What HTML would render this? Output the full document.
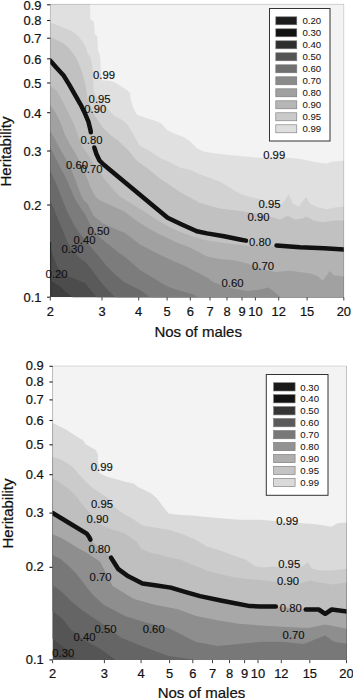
<!DOCTYPE html>
<html><head><meta charset="utf-8"><style>
html,body{margin:0;padding:0;background:#fff;}
body{width:353px;height:700px;overflow:hidden;}
svg{display:block;}
text{font-family:"Liberation Sans",sans-serif;fill:#111;stroke:#111;stroke-width:0.22px;}
.tk{font-size:12.9px;}
.ax{font-size:15px;}
.lg{font-size:9.6px;stroke-width:0.05px;}
.cl{font-size:11.2px;stroke-width:0.15px;}
</style></head><body>
<svg width="353" height="700" viewBox="0 0 353 700">
<svg x="50.3" y="4.3" width="293.5" height="292.9" viewBox="50.3 4.3 293.5 292.9" overflow="hidden">
<rect x="50.3" y="4.3" width="293.5" height="292.9" fill="#3e3e3e"/>
<polygon points="49.0,280.0 59.3,285.7 66.0,292.0 73.6,298.5 344.8,298.2 344.8,3.8 49.3,3.8" fill="#4c4c4c"/>
<polygon points="49.0,245.0 53.6,257.1 57.9,268.0 65.0,275.0 75.0,279.0 85.0,282.9 90.7,290.0 97.9,298.5 344.8,298.2 344.8,3.8 49.3,3.8" fill="#5a5a5a"/>
<polygon points="49.0,199.0 53.6,208.0 57.9,219.0 62.1,229.0 67.9,242.9 73.6,251.4 80.7,259.0 85.0,261.5 92.1,270.0 99.3,280.0 106.4,288.6 113.6,295.7 117.0,298.5 344.8,298.2 344.8,3.8 49.3,3.8" fill="#6a6a6a"/>
<polygon points="49.0,170.0 50.4,171.0 55.0,181.0 59.0,191.0 62.1,199.0 67.0,211.0 73.6,224.3 79.3,232.9 85.0,240.0 92.1,248.6 99.3,257.1 106.4,265.7 113.6,272.9 120.7,279.3 125.0,282.5 140.0,290.0 152.0,298.5 344.8,298.2 344.8,3.8 49.3,3.8" fill="#7c7c7c"/>
<polygon points="49.0,147.0 50.4,148.0 55.0,157.0 60.0,167.0 66.4,179.0 70.7,189.0 75.0,199.0 80.0,207.0 85.0,214.3 92.0,228.0 99.3,237.1 106.4,242.9 113.6,248.6 119.3,252.9 125.0,257.1 140.0,270.0 147.1,274.3 154.3,278.6 161.4,282.9 168.6,287.1 175.7,289.5 182.9,291.5 193.6,294.5 200.0,298.5 344.8,298.2 344.8,3.8 49.3,3.8" fill="#8e8e8e"/>
<polygon points="49.0,130.0 50.4,131.3 53.7,137.0 57.9,145.0 63.6,155.0 69.3,165.0 75.0,179.0 80.7,194.3 83.6,200.0 87.9,204.3 93.6,215.7 102.1,222.9 110.7,227.1 119.3,230.7 125.0,232.9 140.0,244.5 154.3,252.0 168.6,259.0 182.9,265.0 193.6,270.5 207.2,277.5 214.0,282.4 227.6,287.5 248.0,290.9 261.6,289.2 268.4,287.5 275.2,292.6 282.0,298.5 344.8,298.2 344.8,3.8 49.3,3.8" fill="#a1a1a1"/>
<polygon points="49.0,104.0 50.1,105.0 55.1,111.7 60.7,123.0 65.0,135.0 70.7,145.5 76.4,155.0 82.1,167.1 85.0,172.9 90.0,186.0 95.0,196.0 99.3,200.0 106.4,203.5 113.6,206.5 120.0,209.5 125.0,212.0 133.6,218.5 140.0,223.0 147.2,227.5 154.3,231.5 160.8,235.0 168.6,238.5 174.4,241.5 182.9,245.0 190.0,247.5 207.0,256.5 221.0,259.3 234.4,260.3 248.0,263.7 261.6,268.8 275.2,272.0 290.0,270.8 301.3,272.3 311.2,273.7 318.3,276.6 322.6,280.8 326.8,275.2 329.7,270.9 333.9,275.2 345.0,276.6 344.8,3.8 49.3,3.8" fill="#b3b3b3"/>
<polygon points="49.0,84.5 56.5,90.4 62.2,100.3 67.8,111.7 73.5,123.0 77.7,135.0 82.0,146.0 88.6,155.6 93.1,163.6 97.7,169.0 105.0,180.0 116.3,193.0 120.0,196.5 131.3,203.5 142.7,210.5 154.0,218.0 165.4,225.0 179.0,231.5 192.6,236.5 200.0,238.5 207.0,240.5 224.0,243.0 241.0,245.0 250.0,246.0 274.5,246.2 300.0,248.0 324.0,249.0 345.0,250.2 344.8,3.8 49.3,3.8" fill="#c1c1c1"/>
<polygon points="49.0,36.5 56.5,40.0 63.3,43.3 68.4,47.6 72.6,52.7 76.0,57.8 78.0,62.0 82.0,71.8 85.5,85.0 87.7,100.0 90.5,106.0 93.3,113.5 102.4,127.0 109.2,134.0 118.3,140.7 128.0,150.0 137.0,161.0 145.5,166.7 160.0,178.4 180.0,192.1 200.0,203.0 220.0,208.4 240.0,211.0 260.0,214.0 280.0,219.4 287.5,215.7 295.0,219.4 302.4,218.5 306.2,216.6 313.6,220.4 323.0,222.2 334.2,220.4 345.0,220.4 344.8,3.8 49.3,3.8" fill="#d2d2d2"/>
<polygon points="49.0,22.1 58.2,25.5 66.7,28.9 72.6,31.4 78.6,36.5 83.7,43.3 86.2,48.4 87.1,52.7 89.6,56.1 91.3,60.0 93.0,72.5 93.6,90.0 95.6,95.4 104.7,104.5 113.7,115.8 122.8,120.3 128.0,125.0 134.2,136.0 139.8,146.0 149.0,150.4 160.0,158.0 171.7,163.0 180.0,167.5 190.0,170.0 200.0,174.5 210.0,178.0 220.0,181.8 240.0,193.8 250.0,197.0 260.0,199.0 270.0,203.0 280.0,205.4 283.7,201.7 288.4,194.2 293.0,203.6 298.7,206.4 302.4,201.7 306.2,197.0 309.9,203.6 317.4,207.3 326.7,209.2 336.0,207.3 345.0,206.4 344.8,3.8 49.3,3.8" fill="#e0e0e0"/>
<polygon points="89.9,3.0 90.5,19.5 93.9,21.2 94.7,34.0 97.3,36.5 98.1,51.0 99.8,54.4 100.5,62.0 100.8,72.0 101.5,80.3 109.3,80.8 115.0,82.5 120.7,85.9 127.5,90.4 130.0,93.0 130.8,100.0 133.7,109.0 137.0,114.7 146.0,118.0 157.5,121.5 162.0,124.0 167.0,130.0 174.0,133.4 183.0,136.8 190.0,141.3 196.7,148.0 203.5,151.5 212.5,153.0 220.0,154.0 240.0,156.0 260.0,157.8 280.0,157.0 289.0,157.8 298.7,158.7 308.0,160.6 317.4,162.4 326.7,163.4 332.3,161.5 345.0,160.6 344.8,3.8" fill="#f3f3f3"/>
<polyline points="50.3,60.7 56.5,67.7 63.6,75.5 69.2,84.7 74.9,94.7 80.6,104.6 84.8,113.1 88.4,121.6 90.5,130.1 90.8,132.3" fill="none" stroke="#111" stroke-width="4.5" stroke-linejoin="round" stroke-linecap="round"/>
<polyline points="94.3,147.5 96.5,154.2 99.5,160.5 103.5,164.5 167.6,217.8 181.2,224.2 196.8,231.2 207.0,233.4 224.0,236.3 241.0,239.7 246.0,240.6" fill="none" stroke="#111" stroke-width="4.5" stroke-linejoin="round" stroke-linecap="round"/>
<polyline points="276.5,245.4 300.0,247.2 324.0,248.3 346.0,249.6" fill="none" stroke="#111" stroke-width="4.5" stroke-linejoin="round" stroke-linecap="round"/>
<path d="M50.5 242.0V297.2" stroke="#1c1c1c" stroke-width="1.3"/>
</svg>
<path d="M50.3 297.2V4.3H343.8" fill="none" stroke="#000" stroke-opacity="0.13" stroke-width="1"/>
<path d="M343.8 4.3V297.2" fill="none" stroke="#000" stroke-opacity="0.12" stroke-width="1"/>
<path d="M47.1 4.8H50.3" stroke="#222" stroke-width="1.1"/>
<text x="41.4" y="9.7" text-anchor="end" class="tk">0.9</text>
<path d="M47.1 20.5H50.3" stroke="#222" stroke-width="1.1"/>
<text x="41.4" y="25.4" text-anchor="end" class="tk">0.8</text>
<path d="M47.1 38.2H50.3" stroke="#222" stroke-width="1.1"/>
<text x="41.4" y="43.1" text-anchor="end" class="tk">0.7</text>
<path d="M47.1 58.8H50.3" stroke="#222" stroke-width="1.1"/>
<text x="41.4" y="63.7" text-anchor="end" class="tk">0.6</text>
<path d="M47.1 83.0H50.3" stroke="#222" stroke-width="1.1"/>
<text x="41.4" y="87.9" text-anchor="end" class="tk">0.5</text>
<path d="M47.1 112.7H50.3" stroke="#222" stroke-width="1.1"/>
<text x="41.4" y="117.6" text-anchor="end" class="tk">0.4</text>
<path d="M47.1 151.0H50.3" stroke="#222" stroke-width="1.1"/>
<text x="41.4" y="155.9" text-anchor="end" class="tk">0.3</text>
<path d="M47.1 205.0H50.3" stroke="#222" stroke-width="1.1"/>
<text x="41.4" y="209.9" text-anchor="end" class="tk">0.2</text>
<path d="M47.1 297.2H50.3" stroke="#222" stroke-width="1.1"/>
<text x="41.4" y="302.1" text-anchor="end" class="tk">0.1</text>
<path d="M50.3 297.2V300.5" stroke="#444" stroke-width="1"/>
<text x="50.3" y="315.5" text-anchor="middle" class="tk">2</text>
<path d="M102.0 297.2V300.5" stroke="#444" stroke-width="1"/>
<text x="102.0" y="315.5" text-anchor="middle" class="tk">3</text>
<path d="M138.7 297.2V300.5" stroke="#444" stroke-width="1"/>
<text x="138.7" y="315.5" text-anchor="middle" class="tk">4</text>
<path d="M167.1 297.2V300.5" stroke="#444" stroke-width="1"/>
<text x="167.1" y="315.5" text-anchor="middle" class="tk">5</text>
<path d="M190.3 297.2V300.5" stroke="#444" stroke-width="1"/>
<text x="190.3" y="315.5" text-anchor="middle" class="tk">6</text>
<path d="M210.0 297.2V300.5" stroke="#444" stroke-width="1"/>
<text x="210.0" y="315.5" text-anchor="middle" class="tk">7</text>
<path d="M227.0 297.2V300.5" stroke="#444" stroke-width="1"/>
<text x="227.0" y="315.5" text-anchor="middle" class="tk">8</text>
<path d="M242.0 297.2V300.5" stroke="#444" stroke-width="1"/>
<text x="242.0" y="315.5" text-anchor="middle" class="tk">9</text>
<path d="M255.4 297.2V300.5" stroke="#444" stroke-width="1"/>
<text x="255.4" y="315.5" text-anchor="middle" class="tk">10</text>
<path d="M278.7 297.2V300.5" stroke="#444" stroke-width="1"/>
<text x="278.7" y="315.5" text-anchor="middle" class="tk">12</text>
<path d="M307.1 297.2V300.5" stroke="#444" stroke-width="1"/>
<text x="307.1" y="315.5" text-anchor="middle" class="tk">15</text>
<path d="M343.8 297.2V300.5" stroke="#444" stroke-width="1"/>
<text x="343.8" y="315.5" text-anchor="middle" class="tk">20</text>
<text x="93.0" y="79.1" class="cl" textLength="22.0" lengthAdjust="spacingAndGlyphs">0.99</text>
<text x="88.6" y="102.9" class="cl" textLength="22.0" lengthAdjust="spacingAndGlyphs">0.95</text>
<text x="84.3" y="113.0" class="cl" textLength="22.0" lengthAdjust="spacingAndGlyphs">0.90</text>
<text x="80.5" y="144.0" class="cl" textLength="22.0" lengthAdjust="spacingAndGlyphs">0.80</text>
<text x="66.0" y="169.3" class="cl" textLength="22.0" lengthAdjust="spacingAndGlyphs">0.60</text>
<text x="80.5" y="173.3" class="cl" textLength="22.0" lengthAdjust="spacingAndGlyphs">0.70</text>
<text x="87.5" y="235.4" class="cl" textLength="22.0" lengthAdjust="spacingAndGlyphs">0.50</text>
<text x="73.5" y="243.9" class="cl" textLength="22.0" lengthAdjust="spacingAndGlyphs">0.40</text>
<text x="61.5" y="252.9" class="cl" textLength="22.0" lengthAdjust="spacingAndGlyphs">0.30</text>
<text x="45.6" y="277.5" class="cl" textLength="22.0" lengthAdjust="spacingAndGlyphs">0.20</text>
<text x="263.2" y="159.1" class="cl" textLength="22.0" lengthAdjust="spacingAndGlyphs">0.99</text>
<text x="258.5" y="208.4" class="cl" textLength="22.0" lengthAdjust="spacingAndGlyphs">0.95</text>
<text x="247.5" y="221.3" class="cl" textLength="22.0" lengthAdjust="spacingAndGlyphs">0.90</text>
<text x="249.0" y="245.5" class="cl" textLength="22.0" lengthAdjust="spacingAndGlyphs">0.80</text>
<text x="252.0" y="269.6" class="cl" textLength="22.0" lengthAdjust="spacingAndGlyphs">0.70</text>
<text x="221.5" y="287.4" class="cl" textLength="22.0" lengthAdjust="spacingAndGlyphs">0.60</text>
<rect x="269.5" y="8.5" width="60.5" height="132.5" fill="#fff" stroke="#333" stroke-width="1"/>
<rect x="275.8" y="16.8" width="21.0" height="8.0" fill="#1c1c1c" stroke="#777" stroke-width="0.6"/>
<text x="302.5" y="24.3" class="lg">0.20</text>
<rect x="275.8" y="28.8" width="21.0" height="8.0" fill="#121212" stroke="#777" stroke-width="0.6"/>
<text x="302.5" y="36.3" class="lg">0.30</text>
<rect x="275.8" y="40.8" width="21.0" height="8.0" fill="#2e2e2e" stroke="#777" stroke-width="0.6"/>
<text x="302.5" y="48.3" class="lg">0.40</text>
<rect x="275.8" y="52.8" width="21.0" height="8.0" fill="#555555" stroke="#777" stroke-width="0.6"/>
<text x="302.5" y="60.3" class="lg">0.50</text>
<rect x="275.8" y="64.8" width="21.0" height="8.0" fill="#707070" stroke="#777" stroke-width="0.6"/>
<text x="302.5" y="72.3" class="lg">0.60</text>
<rect x="275.8" y="76.8" width="21.0" height="8.0" fill="#8a8a8a" stroke="#777" stroke-width="0.6"/>
<text x="302.5" y="84.3" class="lg">0.70</text>
<rect x="275.8" y="88.8" width="21.0" height="8.0" fill="#a0a0a0" stroke="#777" stroke-width="0.6"/>
<text x="302.5" y="96.3" class="lg">0.80</text>
<rect x="275.8" y="100.8" width="21.0" height="8.0" fill="#b6b6b6" stroke="#777" stroke-width="0.6"/>
<text x="302.5" y="108.3" class="lg">0.90</text>
<rect x="275.8" y="112.8" width="21.0" height="8.0" fill="#cacaca" stroke="#777" stroke-width="0.6"/>
<text x="302.5" y="120.3" class="lg">0.95</text>
<rect x="275.8" y="124.8" width="21.0" height="8.0" fill="#dedede" stroke="#777" stroke-width="0.6"/>
<text x="302.5" y="132.3" class="lg">0.99</text>
<svg x="52.6" y="366.0" width="293.9" height="293.9" viewBox="52.6 366.0 293.9 293.9" overflow="hidden">
<rect x="52.6" y="366.0" width="293.9" height="293.9" fill="#4a4a4a"/>
<polygon points="51.0,637.8 65.2,648.6 78.0,661.0 347.5,660.9 347.5,365.3 51.6,365.3" fill="#555555"/>
<polygon points="51.0,610.0 62.0,618.6 71.4,630.0 82.5,639.0 99.7,648.6 117.0,661.0 347.5,660.9 347.5,365.3 51.6,365.3" fill="#656565"/>
<polygon points="51.0,584.0 62.0,592.0 72.0,602.0 82.0,610.0 92.0,617.0 100.0,622.0 121.2,637.8 142.7,646.4 168.6,656.0 190.0,659.0 200.0,661.0 347.5,660.9 347.5,365.3 51.6,365.3" fill="#787878"/>
<polygon points="51.0,554.3 60.0,558.6 68.6,565.7 75.7,573.0 82.0,581.0 88.0,589.0 94.0,596.0 104.0,605.0 125.5,616.3 147.0,622.7 168.6,628.0 196.0,642.0 217.5,646.0 239.0,644.0 260.6,641.8 282.0,641.8 303.7,644.0 325.2,635.4 333.8,641.8 348.0,644.0 347.5,365.3 51.6,365.3" fill="#8e8e8e"/>
<polygon points="51.0,533.6 61.4,537.9 70.0,542.9 78.6,548.6 87.1,552.9 92.9,557.1 100.0,561.4 112.6,586.0 134.0,599.0 155.7,605.0 177.0,609.0 196.0,616.0 217.5,620.3 239.0,623.7 260.6,625.5 282.0,626.8 308.0,628.0 325.2,624.6 348.0,629.0 347.5,365.3 51.6,365.3" fill="#a8a8a8"/>
<polygon points="51.0,512.2 70.0,523.0 86.7,533.5 91.0,541.0 100.0,548.0 110.0,556.0 118.4,569.2 128.3,576.3 142.5,583.4 156.7,585.4 170.8,587.6 185.0,591.9 200.0,596.1 220.8,600.5 235.0,603.3 250.0,606.1 260.6,606.5 277.8,606.5 303.7,609.5 318.7,609.5 325.2,613.8 331.7,609.5 348.0,611.7 347.5,365.3 51.6,365.3" fill="#bfbfbf"/>
<polygon points="51.0,477.9 58.6,481.4 64.3,485.7 71.4,491.4 77.1,497.1 80.0,501.4 84.3,507.1 88.6,511.4 95.0,520.0 100.0,524.5 109.3,528.6 123.6,532.9 130.0,537.0 137.0,542.0 141.4,549.0 151.4,552.9 158.6,554.3 167.1,557.1 180.0,559.5 195.0,565.7 208.0,571.0 220.0,574.3 235.0,577.5 250.0,579.2 260.6,580.0 282.0,582.5 300.0,583.4 309.8,580.4 319.7,582.4 331.6,584.4 339.5,583.4 348.0,582.4 347.5,365.3 51.6,365.3" fill="#cbcbcb"/>
<polygon points="51.0,456.4 58.6,458.6 64.3,461.4 70.0,465.0 74.3,468.6 78.6,474.3 82.9,478.6 87.1,482.9 91.4,487.1 95.7,490.0 102.1,494.3 109.3,499.0 113.6,506.0 120.0,511.5 131.3,518.0 142.7,525.6 156.3,527.8 169.9,530.1 183.5,534.6 195.0,539.5 207.0,546.5 220.0,550.5 235.0,556.0 245.4,559.4 254.4,566.0 263.5,567.4 273.5,566.5 295.0,568.5 303.0,566.0 308.0,562.5 311.7,568.5 319.7,570.5 331.6,570.5 339.5,569.5 348.0,568.5 347.5,365.3 51.6,365.3" fill="#dadada"/>
<polygon points="51.0,422.4 65.2,428.9 78.1,437.5 82.9,440.0 85.7,444.3 95.7,450.0 97.9,454.3 97.9,461.4 99.3,472.9 106.4,476.4 116.4,479.3 126.4,482.1 133.6,483.6 137.9,487.1 144.3,490.0 151.4,493.6 157.1,498.6 162.9,506.4 168.6,513.6 180.0,515.0 192.5,515.5 206.7,516.9 220.8,518.3 239.0,519.7 260.6,519.7 282.0,521.8 297.9,522.9 309.8,523.8 319.7,524.8 331.6,526.8 337.5,523.3 348.0,522.5 347.5,365.3 51.6,365.3" fill="#f3f3f3"/>
<polyline points="52.6,513.0 70.0,523.5 86.7,533.7 89.2,537.0 90.4,539.6" fill="none" stroke="#111" stroke-width="4.5" stroke-linejoin="round" stroke-linecap="round"/>
<polyline points="111.1,557.7 118.4,569.2 128.3,576.3 142.5,583.4 156.7,585.4 170.8,587.6 185.0,591.9 200.0,596.1 220.8,600.5 235.0,603.3 250.0,606.1 260.6,606.5 275.8,606.5" fill="none" stroke="#111" stroke-width="4.5" stroke-linejoin="round" stroke-linecap="round"/>
<polyline points="305.7,609.5 318.7,609.5 325.2,613.8 331.7,609.5 348.0,611.7" fill="none" stroke="#111" stroke-width="4.5" stroke-linejoin="round" stroke-linecap="round"/>
</svg>
<path d="M52.6 659.9V366.0H346.5" fill="none" stroke="#000" stroke-opacity="0.13" stroke-width="1"/>
<path d="M346.5 366.0V659.9" fill="none" stroke="#000" stroke-opacity="0.12" stroke-width="1"/>
<path d="M49.4 366.3H52.6" stroke="#222" stroke-width="1.1"/>
<text x="43.7" y="370.4" text-anchor="end" class="tk">0.9</text>
<path d="M49.4 382.0H52.6" stroke="#222" stroke-width="1.1"/>
<text x="43.7" y="386.1" text-anchor="end" class="tk">0.8</text>
<path d="M49.4 399.9H52.6" stroke="#222" stroke-width="1.1"/>
<text x="43.7" y="404.0" text-anchor="end" class="tk">0.7</text>
<path d="M49.4 420.5H52.6" stroke="#222" stroke-width="1.1"/>
<text x="43.7" y="424.6" text-anchor="end" class="tk">0.6</text>
<path d="M49.4 444.8H52.6" stroke="#222" stroke-width="1.1"/>
<text x="43.7" y="448.9" text-anchor="end" class="tk">0.5</text>
<path d="M49.4 474.7H52.6" stroke="#222" stroke-width="1.1"/>
<text x="43.7" y="478.8" text-anchor="end" class="tk">0.4</text>
<path d="M49.4 513.1H52.6" stroke="#222" stroke-width="1.1"/>
<text x="43.7" y="517.2" text-anchor="end" class="tk">0.3</text>
<path d="M49.4 567.3H52.6" stroke="#222" stroke-width="1.1"/>
<text x="43.7" y="571.4" text-anchor="end" class="tk">0.2</text>
<path d="M49.4 659.9H52.6" stroke="#222" stroke-width="1.1"/>
<text x="43.7" y="664.0" text-anchor="end" class="tk">0.1</text>
<path d="M52.6 659.9V663.2" stroke="#444" stroke-width="1"/>
<text x="52.6" y="678.2" text-anchor="middle" class="tk">2</text>
<path d="M104.4 659.9V663.2" stroke="#444" stroke-width="1"/>
<text x="104.4" y="678.2" text-anchor="middle" class="tk">3</text>
<path d="M141.1 659.9V663.2" stroke="#444" stroke-width="1"/>
<text x="141.1" y="678.2" text-anchor="middle" class="tk">4</text>
<path d="M169.6 659.9V663.2" stroke="#444" stroke-width="1"/>
<text x="169.6" y="678.2" text-anchor="middle" class="tk">5</text>
<path d="M192.8 659.9V663.2" stroke="#444" stroke-width="1"/>
<text x="192.8" y="678.2" text-anchor="middle" class="tk">6</text>
<path d="M212.5 659.9V663.2" stroke="#444" stroke-width="1"/>
<text x="212.5" y="678.2" text-anchor="middle" class="tk">7</text>
<path d="M229.5 659.9V663.2" stroke="#444" stroke-width="1"/>
<text x="229.5" y="678.2" text-anchor="middle" class="tk">8</text>
<path d="M244.6 659.9V663.2" stroke="#444" stroke-width="1"/>
<text x="244.6" y="678.2" text-anchor="middle" class="tk">9</text>
<path d="M258.0 659.9V663.2" stroke="#444" stroke-width="1"/>
<text x="258.0" y="678.2" text-anchor="middle" class="tk">10</text>
<path d="M281.3 659.9V663.2" stroke="#444" stroke-width="1"/>
<text x="281.3" y="678.2" text-anchor="middle" class="tk">12</text>
<path d="M309.8 659.9V663.2" stroke="#444" stroke-width="1"/>
<text x="309.8" y="678.2" text-anchor="middle" class="tk">15</text>
<path d="M346.5 659.9V663.2" stroke="#444" stroke-width="1"/>
<text x="346.5" y="678.2" text-anchor="middle" class="tk">20</text>
<text x="90.8" y="470.9" class="cl" textLength="22.0" lengthAdjust="spacingAndGlyphs">0.99</text>
<text x="91.0" y="507.7" class="cl" textLength="22.0" lengthAdjust="spacingAndGlyphs">0.95</text>
<text x="86.6" y="522.5" class="cl" textLength="22.0" lengthAdjust="spacingAndGlyphs">0.90</text>
<text x="88.4" y="552.9" class="cl" textLength="22.0" lengthAdjust="spacingAndGlyphs">0.80</text>
<text x="89.6" y="580.8" class="cl" textLength="22.0" lengthAdjust="spacingAndGlyphs">0.70</text>
<text x="94.5" y="632.6" class="cl" textLength="22.0" lengthAdjust="spacingAndGlyphs">0.50</text>
<text x="142.7" y="632.6" class="cl" textLength="22.0" lengthAdjust="spacingAndGlyphs">0.60</text>
<text x="73.6" y="641.1" class="cl" textLength="22.0" lengthAdjust="spacingAndGlyphs">0.40</text>
<text x="52.3" y="656.8" class="cl" textLength="22.0" lengthAdjust="spacingAndGlyphs">0.30</text>
<text x="276.3" y="525.2" class="cl" textLength="22.0" lengthAdjust="spacingAndGlyphs">0.99</text>
<text x="278.2" y="567.9" class="cl" textLength="22.0" lengthAdjust="spacingAndGlyphs">0.95</text>
<text x="277.0" y="584.6" class="cl" textLength="22.0" lengthAdjust="spacingAndGlyphs">0.90</text>
<text x="279.8" y="611.8" class="cl" textLength="22.0" lengthAdjust="spacingAndGlyphs">0.80</text>
<text x="282.6" y="639.2" class="cl" textLength="22.0" lengthAdjust="spacingAndGlyphs">0.70</text>
<rect x="266.3" y="374.5" width="61.7" height="120.8" fill="#fff" stroke="#333" stroke-width="1"/>
<rect x="273.6" y="382.7" width="21.5" height="8.3" fill="#1a1a1a" stroke="#777" stroke-width="0.6"/>
<text x="300.3" y="390.5" class="lg">0.30</text>
<rect x="273.6" y="394.6" width="21.5" height="8.3" fill="#121212" stroke="#777" stroke-width="0.6"/>
<text x="300.3" y="402.4" class="lg">0.40</text>
<rect x="273.6" y="406.6" width="21.5" height="8.3" fill="#363636" stroke="#777" stroke-width="0.6"/>
<text x="300.3" y="414.4" class="lg">0.50</text>
<rect x="273.6" y="418.5" width="21.5" height="8.3" fill="#5a5a5a" stroke="#777" stroke-width="0.6"/>
<text x="300.3" y="426.3" class="lg">0.60</text>
<rect x="273.6" y="430.5" width="21.5" height="8.3" fill="#787878" stroke="#777" stroke-width="0.6"/>
<text x="300.3" y="438.3" class="lg">0.70</text>
<rect x="273.6" y="442.4" width="21.5" height="8.3" fill="#929292" stroke="#777" stroke-width="0.6"/>
<text x="300.3" y="450.2" class="lg">0.80</text>
<rect x="273.6" y="454.4" width="21.5" height="8.3" fill="#aeaeae" stroke="#777" stroke-width="0.6"/>
<text x="300.3" y="462.2" class="lg">0.90</text>
<rect x="273.6" y="466.3" width="21.5" height="8.3" fill="#c4c4c4" stroke="#777" stroke-width="0.6"/>
<text x="300.3" y="474.1" class="lg">0.95</text>
<rect x="273.6" y="478.3" width="21.5" height="8.3" fill="#dadada" stroke="#777" stroke-width="0.6"/>
<text x="300.3" y="486.1" class="lg">0.99</text>
<text x="154.4" y="337.2" class="ax">Nos of males</text>
<text x="157.7" y="698.2" class="ax">Nos of males</text>
<text transform="translate(11.0,186.5) rotate(-90)" class="ax">Heritability</text>
<text transform="translate(12.6,548.5) rotate(-90)" class="ax">Heritability</text>
</svg>
</body></html>
